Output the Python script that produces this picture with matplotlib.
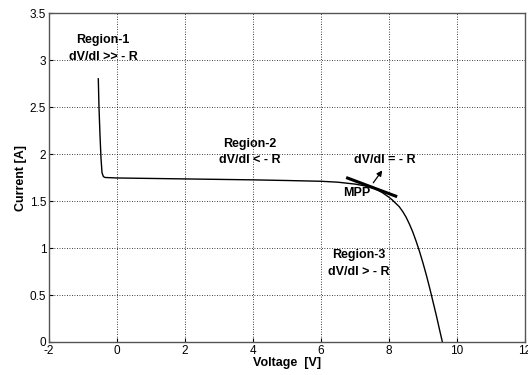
import numpy as np
import matplotlib
matplotlib.use('Agg')
from matplotlib import pyplot as plt

plt.rcParams.update({'font.family': ['Liberation Sans', 'DejaVu Sans'], 'font.size': 8})

# I-V curve of the PV panel
voltage = [-0.55, -0.53, -0.50, -0.47, -0.44, -0.40, -0.35, -0.2, 0, 1, 2, 3, 4, 5,
           6, 6.5, 7, 7.3, 7.6, 7.8, 8.0, 8.1, 8.2, 8.3, 8.4, 8.5, 8.6, 8.7, 8.8,
           8.9, 9.0, 9.1, 9.2, 9.3, 9.4, 9.5, 9.57]
current = [2.80, 2.50, 2.20, 1.95, 1.80, 1.76, 1.75, 1.748, 1.745, 1.74, 1.735, 1.73,
           1.725, 1.718, 1.71, 1.70, 1.68, 1.66, 1.63, 1.59, 1.54, 1.51, 1.475, 1.44,
           1.39, 1.33, 1.255, 1.17, 1.07, 0.96, 0.84, 0.71, 0.57, 0.42, 0.27, 0.11, 0.0]

# tangent at MPP (slope -R)
tangent_v = [6.74, 8.24]
tangent_i = [1.75, 1.546]

fig = plt.figure(figsize=(5.28, 3.75), dpi=100)
ax = fig.add_axes([0.0928, 0.088, 0.9015, 0.8773])

ax.plot(voltage, current, color='black', lw=1.0)
ax.plot(tangent_v, tangent_i, color='black', lw=2.2, solid_capstyle='butt')
ax.annotate('', xy=(7.85, 1.85), xytext=(7.49, 1.67),
            arrowprops=dict(arrowstyle='-|>', color='black', lw=0.9, mutation_scale=8))

bold = dict(fontweight='bold', ha='center', va='center', fontsize=9)
ax.text(-0.41, 3.21, 'Region-1', **bold)
ax.text(-0.41, 3.03, 'dV/dI >> - R', **bold)
ax.text(3.91, 2.11, 'Region-2', **bold)
ax.text(3.91, 1.94, 'dV/dI < - R', **bold)
ax.text(7.88, 1.94, 'dV/dI = - R', **bold)
ax.text(7.05, 1.58, 'MPP', **bold)
ax.text(7.12, 0.93, 'Region-3', **bold)
ax.text(7.12, 0.75, 'dV/dI > - R', **bold)

ax.set_xlim(-2, 12)
ax.set_ylim(0, 3.5)
ax.set_xticks(np.arange(-2, 13, 2))
ax.set_yticks(np.arange(0, 3.6, 0.5))
ax.set_xticklabels(['-2', '0', '2', '4', '6', '8', '10', '12'])
ax.set_yticklabels(['0', '0.5', '1', '1.5', '2', '2.5', '3', '3.5'])
ax.grid(True, color='black', linestyle=(0, (1, 2)), lw=0.6)
ax.tick_params(direction='in', length=3, pad=2, labelsize=8.5)
for s in ax.spines.values():
    s.set_color('#555555')
    s.set_linewidth(1.0)

ax.set_xlabel('Voltage  [V]', fontweight='bold', fontsize=9, labelpad=0)
ax.set_ylabel('Current [A]', fontweight='bold', fontsize=9, labelpad=2)

fig.savefig('out.png', dpi=100)
